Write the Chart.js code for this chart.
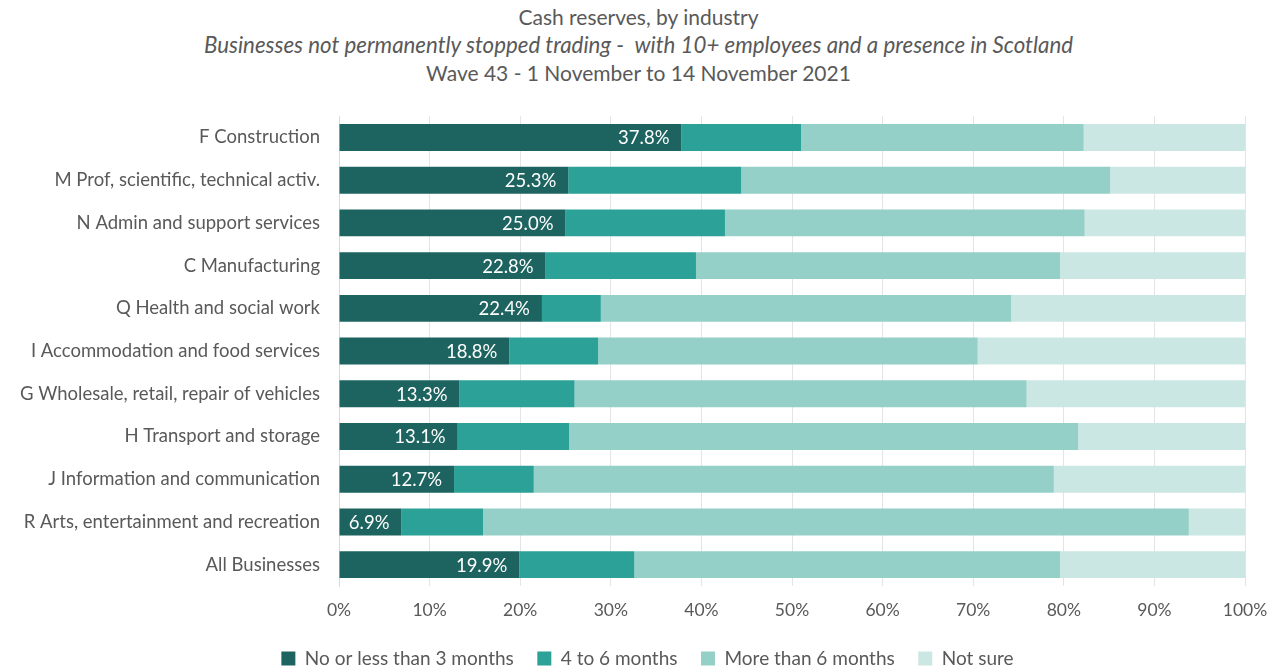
<!DOCTYPE html>
<html>
<head>
<meta charset="utf-8">
<script src="https://cdn.jsdelivr.net/npm/chart.js@4/dist/chart.umd.min.js"></script>
<style>
  body { margin: 0; background: #fff; font-family: Lato, "Open Sans", sans-serif; color: #595959; overflow: hidden; }
  #titulos { position: absolute; left: 0; top: 0; width: 1277px; text-align: center; z-index: 2; }
  #titulos div { font-size: 21px; height: 28px; line-height: 28px; }
  #titulos div.it { font-size: 22.3px; }
  #t1 { margin-top: 3px; }
  #wrap { position: absolute; left: 0; top: 94px; width: 1277px; height: 588px; }
</style>
</head>
<body>
<div id="titulos">
  <div id="t1">Cash reserves, by industry</div>
  <div class="it"><i>Businesses not permanently stopped trading -&nbsp; with 10+ employees and a presence in Scotland</i></div>
  <div>Wave 43 - 1 November to 14 November 2021</div>
</div>
<div id="wrap"><canvas id="grafico"></canvas></div>
<script>
const categorias = [
  "F Construction",
  "M Prof, scientific, technical activ.",
  "N Admin and support services",
  "C Manufacturing",
  "Q Health and social work",
  "I Accommodation and food services",
  "G Wholesale, retail, repair of vehicles",
  "H Transport and storage",
  "J Information and communication",
  "R Arts, entertainment and recreation",
  "All Businesses"
];
const menos3 = [37.8, 25.3, 25.0, 22.8, 22.4, 18.8, 13.3, 13.1, 12.7, 6.9, 19.9];
const de4a6 = [13.2, 19.1, 17.6, 16.6, 6.5, 9.8, 12.7, 12.3, 8.8, 9.0, 12.7];
const mas6 = [31.2, 40.7, 39.7, 40.2, 45.3, 41.9, 49.9, 56.2, 57.4, 77.9, 47.0];
const noSeguro = [17.8, 14.9, 17.7, 20.4, 25.8, 29.5, 24.1, 18.4, 21.1, 6.2, 20.4];
const ticksX = [0, 10, 20, 30, 40, 50, 60, 70, 80, 90, 100];

const fuente = 'Lato, "Open Sans", sans-serif';
const gris = '#595959';

// etiquetas dentro del final de la primera serie
const etiquetasPlugin = {
  id: 'etiquetas',
  afterDatasetsDraw(chart) {
    const ctx = chart.ctx;
    const meta = chart.getDatasetMeta(0);
    ctx.save();
    ctx.font = '18.5px ' + fuente;
    ctx.fillStyle = '#ffffff';
    ctx.textAlign = 'right';
    ctx.textBaseline = 'middle';
    meta.data.forEach((bar, i) => {
      const txt = menos3[i].toFixed(1) + '%';
      const w = ctx.measureText(txt).width;
      let x = bar.x - 12;
      if (x - w < bar.base + 4) x = bar.x - 3;
      ctx.fillText(txt, x, bar.y + 1);
    });
    ctx.restore();
  }
};

// la leyenda del original está algo desplazada a la derecha
const moverLeyenda = {
  id: 'moverLeyenda',
  afterLayout(chart) {
    chart.legend.left += 25;
    chart.legend.right += 25;
  }
};

const ctx = document.getElementById('grafico').getContext('2d');
new Chart(ctx, {
  type: 'bar',
  data: {
    labels: categorias,
    datasets: [
      { label: 'No or less than 3 months', data: menos3, backgroundColor: '#1d6460' },
      { label: '4 to 6 months', data: de4a6, backgroundColor: '#2ca197' },
      { label: 'More than 6 months', data: mas6, backgroundColor: '#95d0c8' },
      { label: 'Not sure', data: noSeguro, backgroundColor: '#cbe7e3' }
    ]
  },
  options: {
    indexAxis: 'y',
    responsive: true,
    maintainAspectRatio: false,
    animation: false,
    datasets: { bar: { categoryPercentage: 1, barPercentage: 0.63, borderWidth: 0 } },
    layout: { padding: { top: 13, right: 32, left: 0, bottom: 4 } },
    scales: {
      x: {
        stacked: true,
        min: 0,
        max: 100,
        afterBuildTicks(scale) { scale.ticks = ticksX.map(v => ({ value: v })); },
        afterFit(scale) { scale.paddingLeft = 0; scale.paddingRight = 0; },
        ticks: { color: gris, font: { family: fuente, size: 17.5 }, padding: 14, callback: v => v + '%' },
        grid: { color: '#e4e4e4', drawTicks: false },
        border: { display: false }
      },
      y: {
        stacked: true,
        afterFit(scale) { scale.width = 339; },
        ticks: { color: gris, font: { family: fuente, size: 18.5 }, padding: 11 },
        grid: { display: false },
        border: { display: true, color: '#d9d9d9' }
      }
    },
    plugins: {
      legend: {
        position: 'bottom',
        labels: {
          color: gris,
          font: { family: fuente, size: 19 },
          boxWidth: 14,
          boxHeight: 14,
          padding: 14,
          // un poco más de separación entre elementos de la leyenda
          generateLabels(chart) {
            const items = Chart.defaults.plugins.legend.labels.generateLabels(chart);
            items.forEach((it, i) => { if (i < items.length - 1) it.text = it.text + '\u2002'; });
            return items;
          }
        }
      },
      tooltip: { enabled: false }
    }
  },
  plugins: [etiquetasPlugin, moverLeyenda]
});
</script>
</body>
</html>
